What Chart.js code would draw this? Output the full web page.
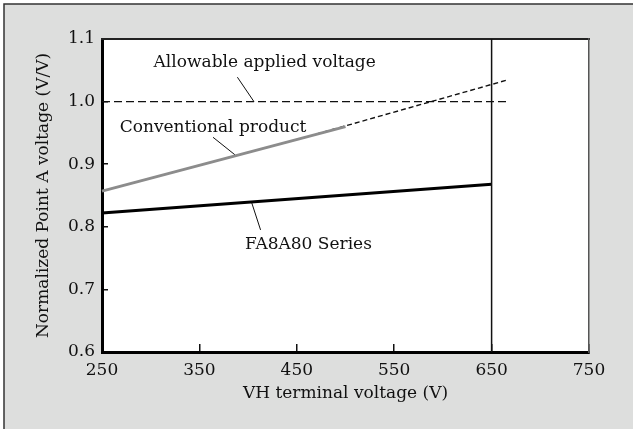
<!DOCTYPE html>
<html>
<head>
<meta charset="utf-8">
<script src="https://cdn.jsdelivr.net/npm/chart.js@4.4.0/dist/chart.umd.min.js"></script>
<style>
  html, body { margin: 0; padding: 0; background: #ffffff; }
  #wrap { position: relative; width: 633px; height: 429px; }
  canvas { display: block; }
</style>
</head>
<body>
<div id="wrap"><canvas id="c" width="633" height="429"></canvas></div>
<script>
// ---- data ----
const xTicks = [250, 350, 450, 550, 650, 750];
const yTicks = [0.6, 0.7, 0.8, 0.9, 1.0, 1.1];

const faVoltage = [250, 650];
const faValues = [0.822, 0.868];

const convVoltage = [250, 500];
const convValues = [0.857, 0.960];

const extVoltage = [470, 665];
const extValues = [0.948, 1.034];

const allowVoltage = [250, 665];
const allowValues = [1.0, 1.0];

const limitVoltage = [650, 650];
const limitValues = [0.6, 1.1];

const labelTexts = ["Allowable applied voltage", "Conventional product", "FA8A80 Series"];
const labelVoltage = [417, 364, 462];
const labelValues = [1.062, 0.959, 0.771];

const allowLeaderX = [389, 406];
const allowLeaderY = [1.039, 1.0];
const convLeaderX = [364, 386.5];
const convLeaderY = [0.943, 0.915];
const faLeaderX = [403.6, 412.8];
const faLeaderY = [0.839, 0.795];

function pts(xs, ys) { return xs.map((x, i) => ({ x: x, y: ys[i] })); }

const FONT = "'DejaVu Serif', serif";

const bgPlugin = {
  id: 'bg',
  beforeDraw(chart) {
    const ctx = chart.ctx;
    const W = chart.width, H = chart.height;
    ctx.save();
    ctx.fillStyle = '#ffffff';
    ctx.fillRect(0, 0, W, H);
    ctx.fillStyle = '#dddedd';
    ctx.fillRect(4, 4, W, H);
    ctx.strokeStyle = '#333333';
    ctx.lineWidth = 1.5;
    ctx.beginPath();
    ctx.moveTo(4, H); ctx.lineTo(4, 4); ctx.lineTo(W, 4);
    ctx.stroke();
    const a = chart.chartArea;
    ctx.fillStyle = '#ffffff';
    ctx.fillRect(a.left, a.top, a.right - a.left, a.bottom - a.top);
    ctx.restore();
  }
};

const labelPlugin = {
  id: 'labels',
  afterDatasetsDraw(chart) {
    const ctx = chart.ctx;
    const xs = chart.scales.x, ys = chart.scales.y;
    ctx.save();
    ctx.font = '17px ' + FONT;
    ctx.fillStyle = '#111111';
    ctx.textAlign = 'center';
    ctx.textBaseline = 'middle';
    labelTexts.forEach((t, i) => {
      ctx.fillText(t, xs.getPixelForValue(labelVoltage[i]), ys.getPixelForValue(labelValues[i]));
    });
    ctx.restore();
  }
};

function lineDs(data, color, width, dash) {
  return {
    data: data, borderColor: color, borderWidth: width, borderDash: dash || [],
    pointRadius: 0, fill: false, tension: 0, showLine: true, clip: false
  };
}

new Chart(document.getElementById('c'), {
  type: 'scatter',
  data: {
    datasets: [
      lineDs(pts(allowVoltage, allowValues), '#111111', 1.4, [8, 4]),
      lineDs(pts(limitVoltage, limitValues), '#111111', 1.5),
      lineDs(pts(faVoltage, faValues), '#000000', 3),
      lineDs(pts(convVoltage, convValues), '#8c8c8c', 3),
      lineDs(pts(extVoltage, extValues), '#111111', 1.4, [5, 3]),
      lineDs(pts(allowLeaderX, allowLeaderY), '#111111', 1),
      lineDs(pts(convLeaderX, convLeaderY), '#111111', 1),
      lineDs(pts(faLeaderX, faLeaderY), '#111111', 1)
    ]
  },
  options: {
    responsive: false,
    animation: false,
    devicePixelRatio: 1,
    layout: { padding: { left: 0, top: 39, right: 44, bottom: 0 } },
    plugins: { legend: { display: false }, tooltip: { enabled: false } },
    scales: {
      x: {
        type: 'linear', position: 'bottom', min: 250, max: 750,
        afterBuildTicks(s) { s.ticks = xTicks.map(v => ({ value: v })); },
        afterFit(s) { s.height = 77; },
        ticks: { color: '#111111', font: { family: FONT, size: 17 }, padding: 16, maxRotation: 0,
                 callback: v => String(v) },
        grid: { display: true, drawOnChartArea: false, drawTicks: true, tickLength: -8,
                color: '#111111', lineWidth: 1.5 },
        border: { display: true, color: '#000000', width: 3 },
        title: { display: true, text: 'VH terminal voltage (V)', color: '#111111',
                 font: { family: FONT, size: 17 }, padding: { top: 0, bottom: 25 } }
      },
      y: {
        type: 'linear', position: 'left', min: 0.6, max: 1.1,
        afterBuildTicks(s) { s.ticks = yTicks.map(v => ({ value: v })); },
        afterFit(s) { s.width = 102; },
        ticks: { color: '#111111', font: { family: FONT, size: 17 }, padding: 13,
                 callback: v => Number(v).toFixed(1) },
        grid: { display: true, drawOnChartArea: false, drawTicks: true, tickLength: -6,
                color: '#111111', lineWidth: 1.5 },
        border: { display: true, color: '#000000', width: 3 },
        title: { display: true, text: 'Normalized Point A voltage (V/V)', color: '#111111',
                 font: { family: FONT, size: 17 }, padding: { top: 33, bottom: 0 } }
      },
      xTop: {
        type: 'linear', position: 'top', min: 250, max: 750,
        afterFit(s) { s.height = 0; },
        ticks: { display: false },
        grid: { display: false },
        border: { display: true, color: '#222222', width: 2 }
      },
      yRight: {
        type: 'linear', position: 'right', min: 0.6, max: 1.1,
        afterFit(s) { s.width = 0; },
        ticks: { display: false },
        grid: { display: false },
        border: { display: true, color: '#555555', width: 1.5 }
      }
    }
  },
  plugins: [bgPlugin, labelPlugin]
});
</script>
</body>
</html>
